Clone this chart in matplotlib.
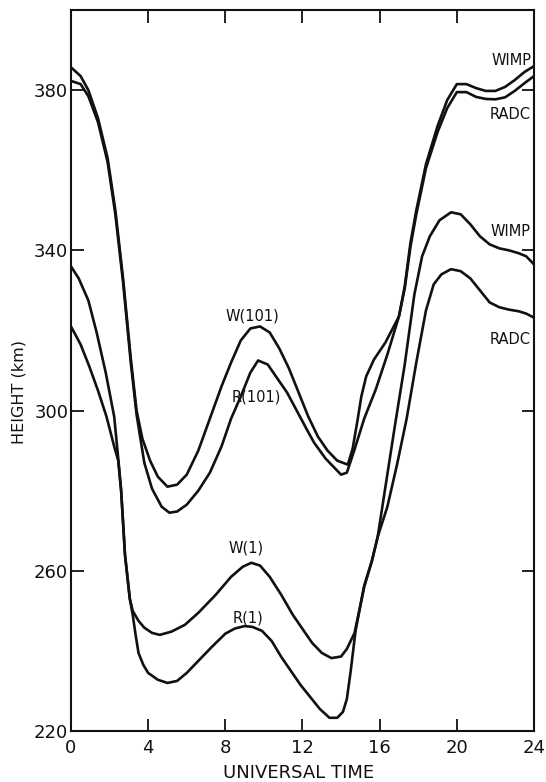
import matplotlib
matplotlib.use("Agg")
import matplotlib.pyplot as plt

# --- curvas de altura (km) frente al tiempo universal (h) ---
# par superior: W(101) y R(101), terminan en WIMP / RADC arriba
ut_w101 = [0, 0.5, 0.9, 1.4, 1.9, 2.3, 2.7, 3.1, 3.4, 3.7, 4.1, 4.5, 5.0, 5.5,
           6.0, 6.6, 7.2, 7.8, 8.3, 8.8, 9.3, 9.8, 10.3, 10.8, 11.3, 11.8,
           12.3, 12.8, 13.3, 13.8, 14.35, 14.6, 14.85, 15.05, 15.3, 15.7, 16.3,
           17.0, 17.3, 17.6, 17.9, 18.4, 19.0, 19.5, 20.0, 20.5, 21.0, 21.5,
           22.0, 22.5, 23.0, 23.5, 24.0]
h_w101 = [385.7, 383.5, 380, 373, 363, 350, 333, 313, 300, 293, 287.5, 283.5,
          281, 281.5, 284, 290, 298, 306, 312, 317.5, 320.5, 321, 319.5, 315.5,
          310.5, 304.5, 298.5, 293.5, 290, 287.5, 286.5, 290.5, 297.5, 303.5,
          308.5, 312.7, 317, 323.5, 331, 342, 350, 361.5, 371, 377.5, 381.5,
          381.5, 380.5, 379.8, 379.8, 380.8, 382.5, 384.5, 386]

ut_r101 = [0, 0.5, 0.9, 1.4, 1.9, 2.3, 2.7, 3.1, 3.4, 3.8, 4.2, 4.7, 5.1, 5.5,
           6.0, 6.6, 7.2, 7.8, 8.3, 8.8, 9.3, 9.7, 10.2, 10.7, 11.2, 11.7,
           12.2, 12.6, 13.2, 13.6, 14.0, 14.3, 14.7, 15.2, 15.8, 16.4, 17.0,
           17.3, 17.6, 17.9, 18.4, 19.0, 19.5, 20.0, 20.5, 21.0, 21.5, 22.0,
           22.5, 23.0, 23.5, 24.0]
h_r101 = [382.3, 381.5, 378.5, 372, 362, 349, 332, 312, 299, 287, 280.5, 276,
          274.5, 274.8, 276.5, 280, 284.5, 291, 298, 303.5, 309.5, 312.5,
          311.5, 308, 304.5, 300, 295.5, 292, 288, 286, 284, 284.5, 290.3, 298,
          305.3, 314, 323.5, 330.5, 341, 349, 360.5, 369.5, 375.5, 379.5,
          379.5, 378.3, 377.8, 377.7, 378.2, 379.8, 381.7, 383.5]

# par inferior: W(1) y R(1), terminan en WIMP / RADC abajo
ut_w1 = [0, 0.4, 0.9, 1.33, 1.8, 2.24, 2.45, 2.6, 2.8, 3.05, 3.2, 3.5, 3.8,
         4.2, 4.6, 5.2, 5.9, 6.6, 7.5, 8.3, 8.9, 9.35, 9.8, 10.3, 10.9, 11.5,
         12.0, 12.5, 13.0, 13.5, 14.0, 14.3, 14.7, 15.2, 15.6, 15.9, 16.3,
         16.8, 17.3, 17.8, 18.2, 18.6, 19.1, 19.7, 20.2, 20.7, 21.2, 21.7,
         22.2, 22.7, 23.2, 23.6, 24.0]
h_w1 = [336, 333, 327.5, 319.5, 309.5, 298.5, 288, 280, 264, 253, 250, 247.5,
        245.8, 244.5, 244, 244.8, 246.5, 249.5, 254, 258.5, 261, 262, 261.3,
        258.5, 254, 249, 245.5, 242, 239.5, 238.2, 238.6, 240.5, 244.5, 256,
        262.5, 268.5, 281, 296.5, 311.5, 329, 338.5, 343.5, 347.5, 349.5, 349,
        346.5, 343.5, 341.5, 340.5, 340, 339.3, 338.5, 336.5]

ut_r1 = [0, 0.5, 0.95, 1.4, 1.84, 2.27, 2.45, 2.6, 2.8, 3.05, 3.2, 3.35, 3.5,
         3.75, 4.0, 4.5, 5.0, 5.5, 6.0, 6.6, 7.3, 8.0, 8.5, 9.0, 9.4, 9.9,
         10.4, 10.9, 11.4, 11.9, 12.4, 12.9, 13.4, 13.8, 14.1, 14.3, 14.5,
         14.75, 15.2, 15.6, 15.9, 16.4, 16.9, 17.4, 17.9, 18.4, 18.8, 19.2,
         19.7, 20.2, 20.7, 21.2, 21.7, 22.2, 22.7, 23.2, 23.6, 24.0]
h_r1 = [321, 316.5, 311, 305, 298.5, 290.5, 287.5, 280, 264, 253, 249, 244,
        239.5, 236.5, 234.5, 232.8, 232, 232.5, 234.5, 237.5, 241, 244.3, 245.6,
        246.2, 246, 245, 242.5, 238.5, 235, 231.5, 228.5, 225.5, 223.3, 223.3,
        224.8, 228, 235, 245, 256.3, 262.5, 268.5, 276, 286.5, 298, 312, 325,
        331.5, 334, 335.3, 334.8, 333, 330, 327, 325.8, 325.2, 324.8, 324.2,
        323.2]

series = [(ut_w101, h_w101), (ut_r101, h_r101), (ut_w1, h_w1), (ut_r1, h_r1)]

# etiquetas de cada curva: (texto, x, y, alineacion)
etiquetas = [
    ("W(101)", 9.4, 323.5, "center"),
    ("R(101)", 9.6, 303.3, "center"),
    ("W(1)", 9.1, 265.8, "center"),
    ("R(1)", 9.2, 248.3, "center"),
    ("WIMP", 23.85, 387.5, "right"),
    ("RADC", 23.8, 374.0, "right"),
    ("WIMP", 23.8, 344.8, "right"),
    ("RADC", 23.8, 317.8, "right"),
]

xticks = [0, 4, 8, 12, 16, 20, 24]
yticks = [220, 260, 300, 340, 380]

fig = plt.figure(figsize=(5.46, 7.82), dpi=100)
ax = fig.add_axes([0.130, 0.0652, 0.848, 0.922])

for ut, h in series:
    ax.plot(ut, h, color="#111111", linewidth=1.9, solid_capstyle="round",
            solid_joinstyle="round")

for texto, x, y, ha in etiquetas:
    ax.text(x, y, texto, ha=ha, va="center", fontsize=10.5, color="#111111")

ax.set_xlim(0, 24)
ax.set_ylim(220, 400)
ax.set_xticks(xticks)
ax.set_yticks(yticks)
ax.tick_params(direction="in", length=9, width=1.3, top=True, right=True,
               labelsize=13, colors="#111111")
ax.tick_params(axis="x", pad=6)
ax.tick_params(axis="y", pad=2)
for s in ax.spines.values():
    s.set_linewidth(1.5)
    s.set_color("#111111")

ax.set_xlabel("UNIVERSAL TIME", fontsize=13, color="#111111")
ax.xaxis.set_label_coords(0.492, -0.046)
ax.set_ylabel("HEIGHT (km)", fontsize=11.5, color="#111111")
ax.yaxis.set_label_coords(-0.095, 0.47)

plt.savefig("out.png", dpi=100)
